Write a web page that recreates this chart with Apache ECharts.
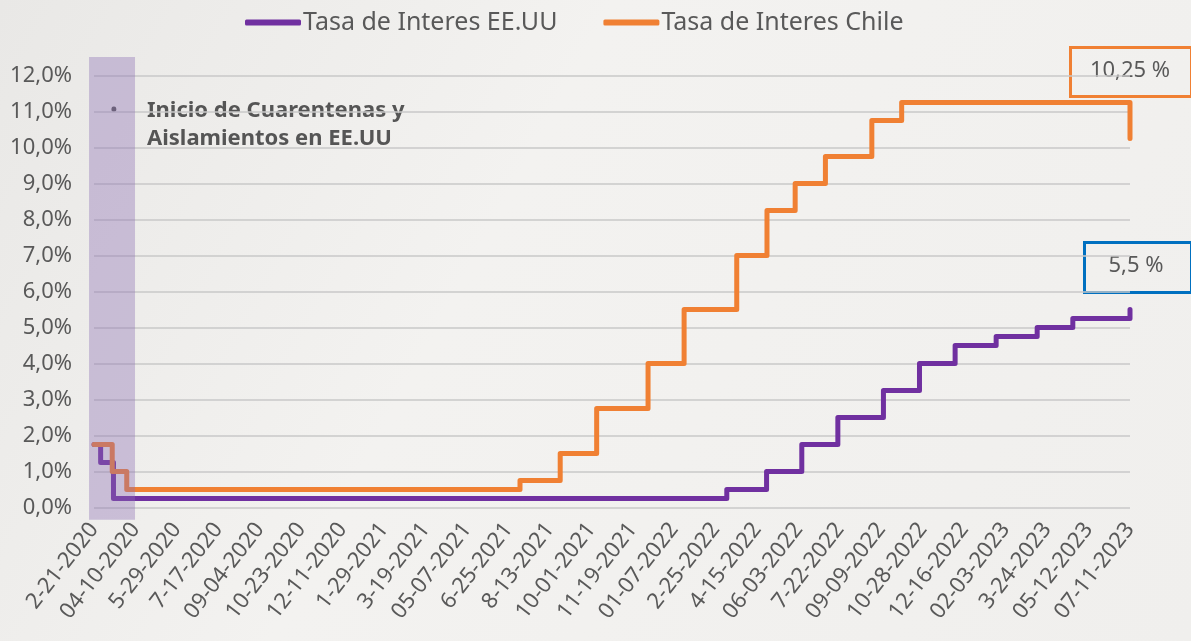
<!DOCTYPE html>
<html>
<head>
<meta charset="utf-8">
<script src="https://cdn.jsdelivr.net/npm/echarts@6/dist/echarts.min.js"></script>
<style>
  html, body { margin: 0; padding: 0; background: #f0efed; }
  #chart { width: 1191px; height: 641px; }
</style>
</head>
<body>
<div id="chart"></div>
<script>
// etiquetas del eje x (una cada 7 semanas)
var tickLabels = [
  "2-21-2020", "04-10-2020", "5-29-2020", "7-17-2020", "09-04-2020", "10-23-2020",
  "12-11-2020", "1-29-2021", "3-19-2021", "05-07-2021", "6-25-2021", "8-13-2021",
  "10-01-2021", "11-19-2021", "01-07-2022", "2-25-2022", "4-15-2022", "06-03-2022",
  "7-22-2022", "09-09-2022", "10-28-2022", "12-16-2022", "02-03-2023", "3-24-2023",
  "05-12-2023", "07-11-2023"
];

// cambios de tasa EE.UU (posicion en el eje, tasa %)
var usX = [0, 0.16, 0.47, 15.27, 16.23, 17.08, 17.95, 19.05, 19.92, 20.78, 21.77, 22.76, 23.62, 25];
var usRate = [1.75, 1.25, 0.25, 0.5, 1.0, 1.75, 2.5, 3.25, 4.0, 4.5, 4.75, 5.0, 5.25, 5.5];

// cambios de tasa Chile
var clX = [0, 0.44, 0.79, 10.28, 11.25, 12.13, 13.37, 14.24, 15.51, 16.24, 16.92, 17.65, 18.77, 19.49, 25];
var clRate = [1.75, 1.0, 0.5, 0.75, 1.5, 2.75, 4.0, 5.5, 7.0, 8.25, 9.0, 9.75, 10.75, 11.25, 10.25];

// periodo de cuarentenas (desde, hasta)
var quarantine = [-0.12, 0.99];

var usData = usX.map(function (x, i) { return [x, usRate[i]]; });
var clData = clX.map(function (x, i) { return [x, clRate[i]]; });

var myChart = echarts.init(document.getElementById("chart"));
var options = {
  backgroundColor: {
    type: "linear", x: 0, y: 0, x2: 1, y2: 1,
    colorStops: [
      { offset: 0, color: "#e9e8e6" },
      { offset: 0.4, color: "#f3f2f0" },
      { offset: 1, color: "#f0efed" }
    ]
  },
  textStyle: { fontFamily: "Noto Sans" },
  legend: {
    data: ["Tasa de Interes EE.UU", "Tasa de Interes Chile"],
    top: 5,
    left: 240,
    icon: "roundRect",
    itemWidth: 56,
    itemHeight: 6,
    itemGap: 46,
    textStyle: { fontSize: 25, color: "#595959", padding: [0, 0, 0, -3] }
  },
  grid: { left: 94, right: 61, top: 75.6, bottom: 133.4 },
  xAxis: {
    type: "value",
    min: 0,
    max: 25,
    interval: 1,
    axisLine: { show: false },
    axisTick: { show: false },
    splitLine: { show: false },
    axisLabel: {
      rotate: 52,
      margin: 18,
      fontSize: 22,
      color: "#595959",
      formatter: function (v) { return tickLabels[v]; }
    }
  },
  yAxis: {
    type: "value",
    min: 0,
    max: 12,
    interval: 1,
    axisLine: { show: false },
    axisTick: { show: false },
    splitLine: { lineStyle: { color: "#c8c8c8", width: 1.5 } },
    axisLabel: {
      fontSize: 22,
      color: "#595959",
      margin: 22,
      formatter: function (v) { return v.toFixed(1).replace(".", ",") + "%"; }
    }
  },
  series: [
    {
      name: "Tasa de Interes EE.UU",
      type: "line",
      step: "end",
      symbol: "none",
      data: usData,
      color: "#7030a0",
      lineStyle: { width: 5, cap: "round", join: "round" },
      z: 2
    },
    {
      name: "Tasa de Interes Chile",
      type: "line",
      step: "end",
      symbol: "none",
      data: clData,
      color: "#f08033",
      lineStyle: { width: 5, cap: "round", join: "round" },
      z: 3
    },
    {
      name: "Cuarentena",
      type: "custom",
      z: 10,
      silent: true,
      encode: { x: [0, 1], y: [2, 3] },
      data: [[quarantine[0], quarantine[1], -0.34, 12.52]],
      renderItem: function (params, api) {
        var p0 = api.coord([api.value(0), api.value(3)]);
        var p1 = api.coord([api.value(1), api.value(2)]);
        return {
          type: "rect",
          shape: { x: p0[0], y: p0[1], width: p1[0] - p0[0], height: p1[1] - p0[1] },
          style: { fill: "rgba(140,110,178,0.38)" }
        };
      }
    }
  ],
  graphic: [
    {
      type: "text", x: 114, y: 111,
      style: { text: "•", fontSize: 22, fill: "#595959", fontFamily: "Noto Sans", align: "center", verticalAlign: "middle" }
    },
    {
      type: "text", left: 147, top: 97,
      style: {
        text: "Inicio de Cuarentenas y\nAislamientos en EE.UU",
        fontSize: 22, fontWeight: "bold", lineHeight: 28,
        fill: "#555555", fontFamily: "Noto Sans"
      }
    },
    {
      type: "rect", left: 1068, top: 45,
      shape: { width: 121, height: 49 },
      style: { fill: "none", stroke: "#f08033", lineWidth: 3 }
    },
    {
      type: "text", x: 1130, y: 71,
      style: { text: "10,25 %", fontSize: 22, fill: "#595959", fontFamily: "Noto Sans", align: "center", verticalAlign: "middle" }
    },
    {
      type: "rect", left: 1082, top: 240,
      shape: { width: 107, height: 50 },
      style: { fill: "none", stroke: "#0070c0", lineWidth: 3 }
    },
    {
      type: "text", x: 1136, y: 266,
      style: { text: "5,5 %", fontSize: 22, fill: "#595959", fontFamily: "Noto Sans", align: "center", verticalAlign: "middle" }
    }
  ]
};
myChart.setOption(options);
</script>
</body>
</html>
